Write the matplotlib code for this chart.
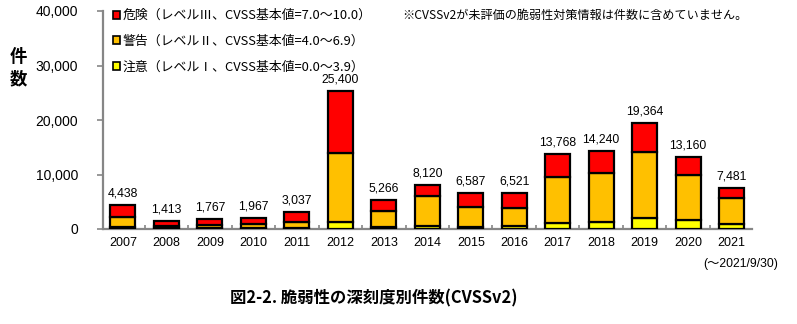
import matplotlib
matplotlib.use("Agg")
import matplotlib.pyplot as plt
from matplotlib.patches import Patch
from matplotlib.ticker import FuncFormatter, MultipleLocator
import numpy as np

plt.rcParams['font.family'] = ['Liberation Sans', 'Noto Sans CJK JP', 'DejaVu Sans']

years = ['2007', '2008', '2009', '2010', '2011', '2012', '2013', '2014',
         '2015', '2016', '2017', '2018', '2019', '2020', '2021']
caution = [300, 150, 200, 200, 250, 1200, 420, 600, 420, 600, 1160, 1340, 2080, 1650, 920]
warning = [1950, 450, 600, 660, 1030, 12800, 2900, 5450, 3620, 3190, 8440, 8880, 12050, 8250, 4830]
danger = [2188, 813, 967, 1107, 1757, 11400, 1946, 2070, 2547, 2731, 4168, 4020, 5234, 3260, 1731]

series_labels = ['危険（レベルⅢ、CVSS基本値=7.0～10.0）',
                 '警告（レベルⅡ、CVSS基本値=4.0～6.9）',
                 '注意（レベルⅠ、CVSS基本値=0.0～3.9）']
colors = {'danger': '#FF0000', 'warning': '#FFC000', 'caution': '#FFFF00'}

fig = plt.figure(figsize=(7.97, 3.24), dpi=100)
ax = fig.add_axes([103 / 797, 1 - 229 / 324, (752 - 103) / 797, (229 - 11) / 324])

x = np.arange(len(years))
w = 0.575
edge = dict(edgecolor='black', linewidth=1.6)
ax.bar(x, caution, w, color=colors['caution'], **edge, zorder=3)
ax.bar(x, warning, w, bottom=caution, color=colors['warning'], **edge, zorder=3)
base2 = np.array(caution) + np.array(warning)
ax.bar(x, danger, w, bottom=base2, color=colors['danger'], **edge, zorder=3)

# total count above each stacked bar
totals = base2 + np.array(danger)
for xi, t in zip(x, totals):
    ax.annotate(f'{t:,}', (xi, t), xytext=(0, 4), textcoords='offset points',
                ha='center', va='bottom', fontsize=8.8)

ax.set_xlim(-0.46, len(years) - 0.53)
ax.set_ylim(0, 40000)
ax.yaxis.set_major_locator(MultipleLocator(10000))
ax.yaxis.set_major_formatter(FuncFormatter(lambda v, p: f'{int(v):,}'))
ax.set_xticks(x)
ax.set_xticklabels(years, fontsize=9)
ax.set_xticks(x[:-1] + 0.5, minor=True)

grey = '#868686'
for s in ['top', 'right']:
    ax.spines[s].set_visible(False)
for s in ['left', 'bottom']:
    ax.spines[s].set_color(grey)
    ax.spines[s].set_linewidth(1.6)
ax.tick_params(axis='y', colors=grey, labelcolor='black', labelsize=10,
               length=4, width=1.2, pad=14)
ax.tick_params(axis='x', which='major', length=0, pad=6, labelcolor='black')
ax.tick_params(axis='x', which='minor', direction='in', length=3, width=1.2, colors=grey)

ax.set_ylabel('件\n数', rotation=0, fontsize=12.5, fontweight='bold',
              linespacing=1.3, family=['Noto Sans CJK JP'])
ax.yaxis.set_label_coords(-0.131, 0.647)

handles = [Patch(facecolor=colors['danger'], edgecolor='black', linewidth=1.2),
           Patch(facecolor=colors['warning'], edgecolor='black', linewidth=1.2),
           Patch(facecolor=colors['caution'], edgecolor='black', linewidth=1.2)]
leg = fig.legend(handles, series_labels, loc='upper left',
                 bbox_to_anchor=(110 / 797, 1 - 6 / 324), frameon=False,
                 handlelength=0.55, handleheight=0.55, handletextpad=0.2,
                 labelspacing=0.98, borderaxespad=0, borderpad=0.25,
                 prop={'family': ['Noto Sans CJK JP'], 'size': 9.3})

fig.text(402 / 797, 1 - 15 / 324, '※CVSSv2が未評価の脆弱性対策情報は件数に含めていません。',
         fontsize=8.7, family=['Noto Sans CJK JP'], ha='left', va='center')
fig.text(778 / 797, 1 - 264 / 324, '(～2021/9/30)', fontsize=8.8,
         family=['Liberation Sans', 'Noto Sans CJK JP'], ha='right', va='center')
fig.text(374 / 797, 1 - 298 / 324, '図2-2. 脆弱性の深刻度別件数(CVSSv2)', fontsize=11.8,
         fontweight='bold', family=['Noto Sans CJK JP'], ha='center', va='center')

fig.savefig('out.png', dpi=100)
